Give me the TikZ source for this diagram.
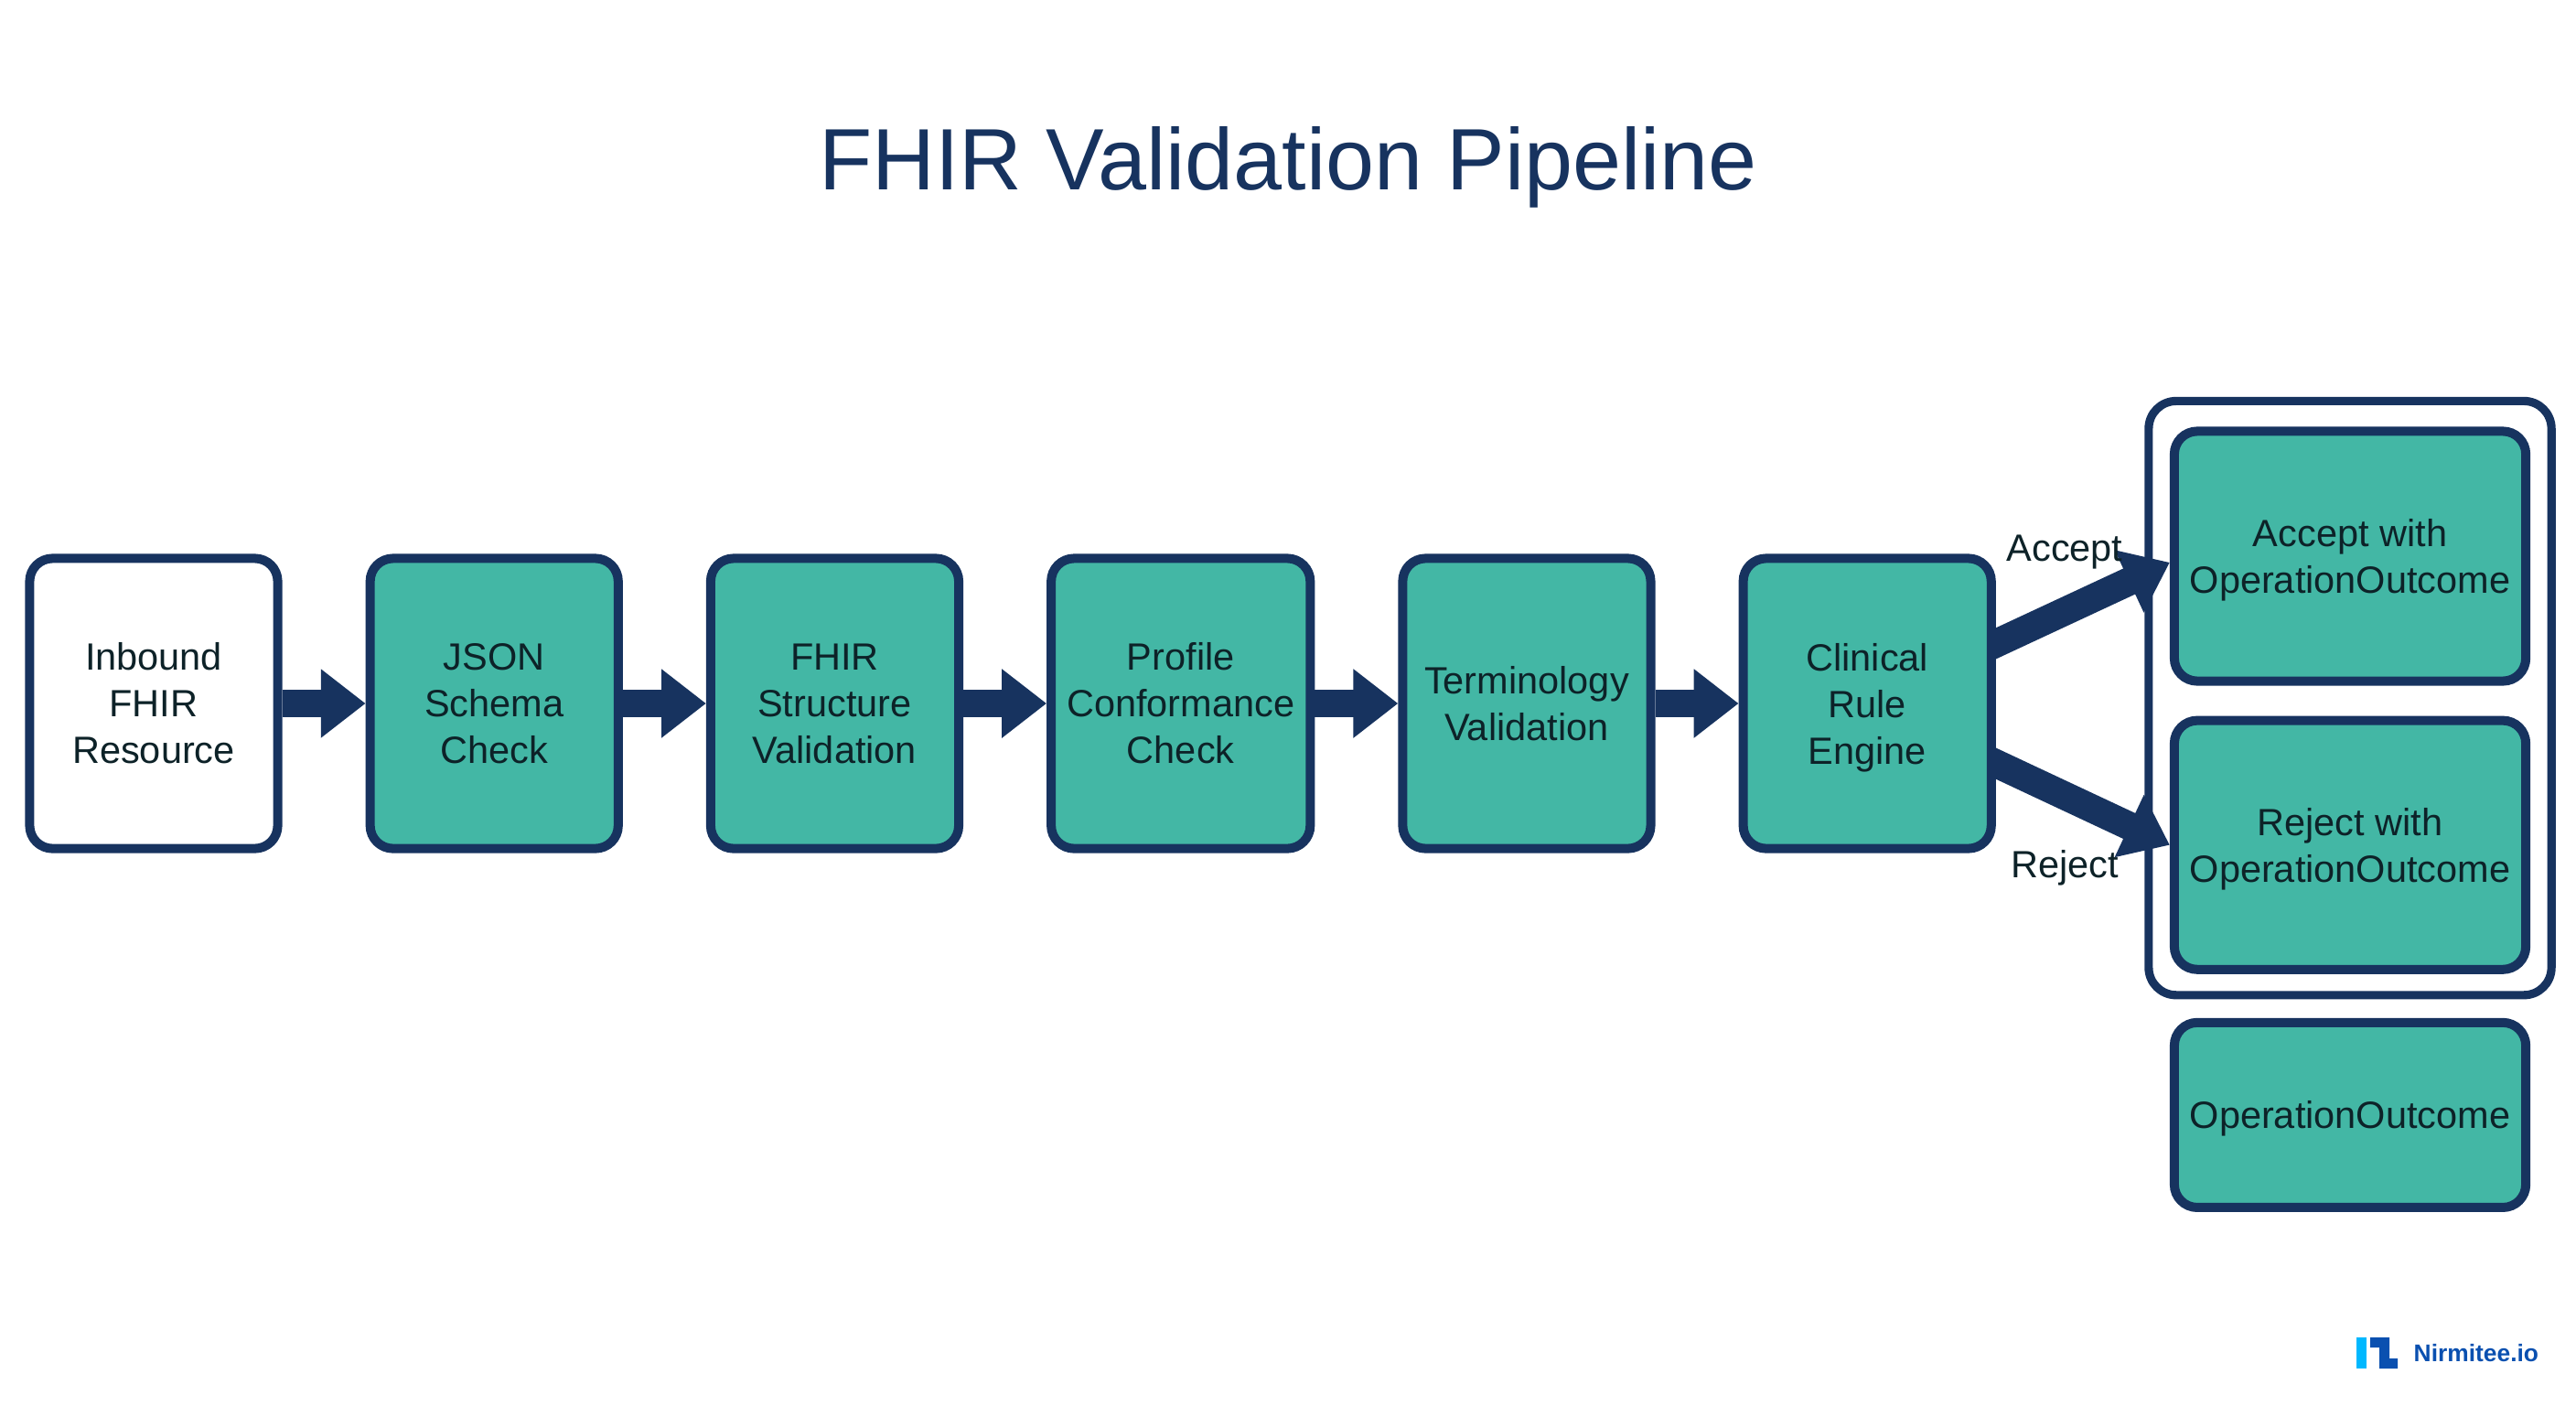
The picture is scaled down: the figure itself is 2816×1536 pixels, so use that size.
\documentclass[tikz,border=0pt]{standalone}
\usepackage{fontspec}
\setmainfont{Liberation Sans}
\RequirePackage{xcolor}
\definecolor{navy}{HTML}{17335F}
\definecolor{teal}{HTML}{43B7A5}
\definecolor{ink}{HTML}{0D2228}
\definecolor{logodark}{HTML}{0A50B0}
\definecolor{logolight}{HTML}{00B8FF}
\usetikzlibrary{positioning}
\usetikzlibrary{arrows.meta,backgrounds,fit}
\newcommand{\nodepth}[1]{\raisebox{0pt}[\height][0pt]{#1}}

\begin{document}
\begin{tikzpicture}[x=0.01cm,y=-0.01cm,node distance=0.91cm,
    box/.style={draw=navy,line width=2.85pt,rounded corners=0.25cm,align=center,text=ink,
      font=\fontsize{11.8}{14.5}\selectfont,inner sep=0pt,minimum width=2.71cm,minimum height=3.17cm},
    tealbox/.style={box,fill=teal},
    sidebox/.style={tealbox,minimum width=3.84cm},
    flow/.style={draw=navy,line width=8.8pt,-{Triangle[length=13.9pt,width=20.5pt]}},
    branch/.style={text=ink,font=\fontsize{11.8}{14.5}\selectfont,inner sep=0pt}]
  \useasboundingbox (0,0) rectangle (2816,1536);

  \node [text=navy,font=\fontsize{27.1}{32}\selectfont,inner sep=0pt] (title) at (1408,183) {FHIR Validation Pipeline};

  \node [box,fill=white] (inbound) at (168,769) {Inbound\\FHIR\\Resource};
  \node [tealbox,right=of inbound] (json) {JSON\\Schema\\Check};
  \node [tealbox,right=of json] (structure) {FHIR\\Structure\\Validation};
  \node [tealbox,right=of structure,minimum width=2.83cm] (profile) {Profile\\Conformance\\Check};
  \node [tealbox,right=of profile] (terminology) {Terminology\\Validation};
  \node [tealbox,right=of terminology] (clinical) {Clinical\\Rule\\\nodepth{Engine}};

  \node [sidebox,minimum height=2.73cm] (accept) at (2569,608) {Accept with\\\nodepth{OperationOutcome}};
  \node [sidebox,below=0.33cm of accept,minimum height=2.72cm] (reject) {Reject with\\\nodepth{OperationOutcome}};
  \node [sidebox,below=0.48cm of reject,minimum height=2.02cm] (outcome) {\nodepth{OperationOutcome}};

  \draw [flow] (inbound) -- (json);
  \draw [flow] (json) -- (structure);
  \draw [flow] (structure) -- (profile);
  \draw [flow] (profile) -- (terminology);
  \draw [flow] (terminology) -- (clinical);

  \coordinate [above=0.05cm of accept] (grouptop);
  \begin{scope}[on background layer]
    \node [draw=navy,line width=2.6pt,rounded corners=0.3cm,inner sep=0.23cm,fit=(accept)(reject)(grouptop)] (group) {};
    \draw [flow,shorten <=-4mm] (clinical.25) -- (accept.182);
    \draw [flow,shorten <=-4mm] (clinical.-25) -- (reject.west);
  \end{scope}

  \node [branch] (acceptlabel) at (2257,604) {Accept};
  \node [branch] (rejectlabel) at (2257,949) {Reject};

  \fill [logolight] (2576,1462) rectangle (2587,1496);
  \fill [logodark] (2591,1462) -- (2612,1462) -- (2612,1485) -- (2621,1485) -- (2621,1496) -- (2601,1496) -- (2601,1473) -- (2591,1473) -- cycle;
  \node [text=logodark,font=\fontsize{7.5}{9}\bfseries\selectfont,inner sep=0pt,anchor=west] (brand) at (2638,1479) {Nirmitee.io};
\end{tikzpicture}
\end{document}
